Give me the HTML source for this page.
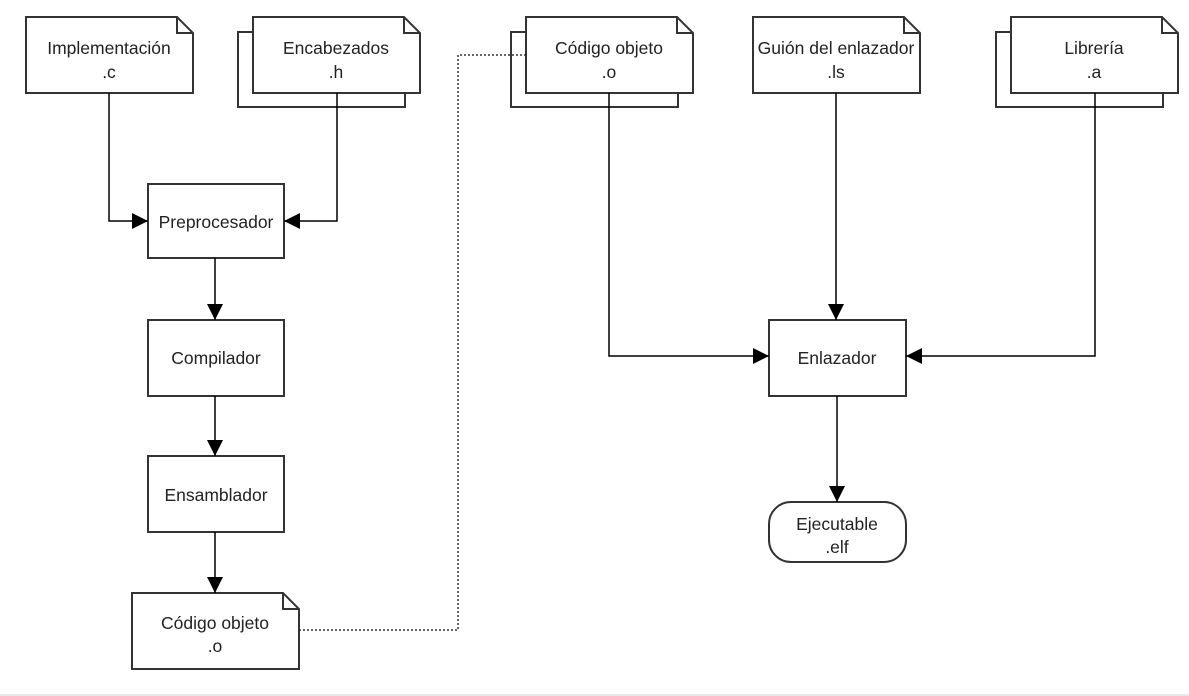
<!DOCTYPE html>
<html><head><meta charset="utf-8"><style>
html,body{margin:0;padding:0;background:#fff;}
svg{display:block;}
text{font-family:"Liberation Sans",sans-serif;font-size:17.5px;fill:#222;text-anchor:middle;}
</style></head><body>
<svg width="1189" height="696" viewBox="0 0 1189 696" xmlns="http://www.w3.org/2000/svg">
<defs>
<marker id="a" markerWidth="16" markerHeight="16" refX="16" refY="8" orient="auto" markerUnits="userSpaceOnUse">
<path d="M0,0 L16,8 L0,16 Z" fill="#000"/>
</marker>
</defs>
<rect x="0" y="694" width="1189" height="2" fill="#e8e8e8"/>
<g fill="#fff" stroke="#333" stroke-width="2">
<rect x="238" y="32" width="167" height="75"/>
<rect x="511" y="32" width="167" height="75"/>
<rect x="996" y="32" width="167" height="75"/>
<path d="M26,17 H177 L193,33 V93 H26 Z"/><path d="M177,17 V33 H193" fill="none"/>
<path d="M253,17 H404 L420,33 V93 H253 Z"/><path d="M404,17 V33 H420" fill="none"/>
<path d="M526,17 H677 L693,33 V93 H526 Z"/><path d="M677,17 V33 H693" fill="none"/>
<path d="M753,17 H904 L920,33 V93 H753 Z"/><path d="M904,17 V33 H920" fill="none"/>
<path d="M1011,17 H1162 L1178,33 V93 H1011 Z"/><path d="M1162,17 V33 H1178" fill="none"/>
<path d="M132,593 H283 L299,609 V669 H132 Z"/><path d="M283,593 V609 H299" fill="none"/>
<rect x="148" y="184" width="136" height="74"/>
<rect x="148" y="320" width="136" height="76"/>
<rect x="148" y="456" width="136" height="76"/>
<rect x="769" y="320" width="137" height="76"/>
<rect x="769" y="502" width="137" height="60" rx="22" ry="22"/>
</g>
<g fill="none" stroke="#000" stroke-width="1.5">
<path d="M109,93 V221 H148" marker-end="url(#a)"/>
<path d="M337,93 V221 H284" marker-end="url(#a)"/>
<path d="M215,258 V320" marker-end="url(#a)"/>
<path d="M215,396 V456" marker-end="url(#a)"/>
<path d="M215,532 V593" marker-end="url(#a)"/>
<path d="M609,93 V356 H769" marker-end="url(#a)"/>
<path d="M836,93 V320" marker-end="url(#a)"/>
<path d="M1095,93 V356 H906" marker-end="url(#a)"/>
<path d="M837,396 V502" marker-end="url(#a)"/>
</g>
<path d="M299,630 H458 V55 H526" fill="none" stroke="#333" stroke-width="1.5" stroke-dasharray="2,2"/>
<text x="109" y="54">Implementación</text><text x="109" y="78">.c</text>
<text x="336" y="54">Encabezados</text><text x="336" y="78">.h</text>
<text x="609" y="54">Código objeto</text><text x="609" y="78">.o</text>
<text x="836" y="54">Guión del enlazador</text><text x="836" y="78">.ls</text>
<text x="1094" y="54">Librería</text><text x="1094" y="78">.a</text>
<text x="216" y="228">Preprocesador</text>
<text x="216" y="364">Compilador</text>
<text x="216" y="501">Ensamblador</text>
<text x="215" y="629">Código objeto</text><text x="215" y="652">.o</text>
<text x="837" y="364">Enlazador</text>
<text x="837" y="530">Ejecutable</text><text x="837" y="553">.elf</text>
</svg>
</body></html>
